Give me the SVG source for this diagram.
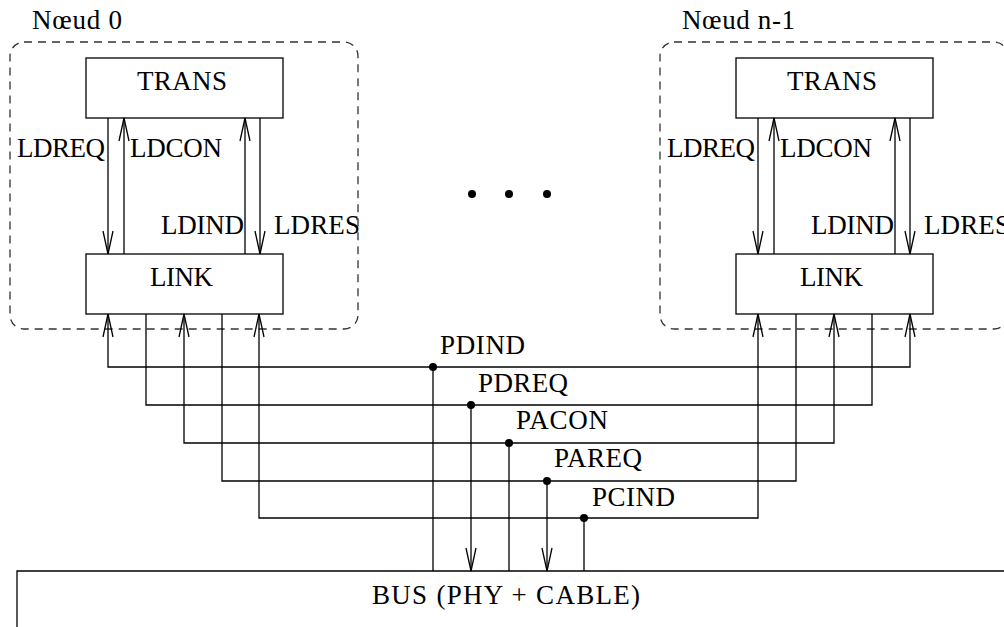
<svg xmlns="http://www.w3.org/2000/svg" width="1004" height="627" viewBox="0 0 1004 627">
<style>
text{font-family:"Liberation Serif","Times New Roman",serif;font-size:27px;fill:#000}
.box{fill:#fff;stroke:#000;stroke-width:1.3}
.frame{fill:none;stroke:#333;stroke-width:1.3;stroke-dasharray:8,6}
.w{fill:none;stroke:#000;stroke-width:1.3}
.a{marker-end:url(#arr)}
.mid{text-anchor:middle}
</style>
<defs>
<marker id="arr" markerUnits="userSpaceOnUse" orient="auto" markerWidth="1" markerHeight="1" overflow="visible">
<path d="M-23,-5 L0,0 L-23,5" fill="none" stroke="#000" stroke-width="1.3"/>
</marker>
</defs>
<rect width="1004" height="627" fill="#fff"/>

<g id="node0">
<rect class="frame" x="10" y="42" width="348" height="287" rx="14"/>
<text x="32" y="29" textLength="90">Nœud 0</text>
</g>
<g id="nodeN">
<rect class="frame" x="660" y="42" width="348" height="287" rx="14"/>
<text x="682" y="29" textLength="113">Nœud n-1</text>
</g>

<g id="trans0"><rect class="box" x="86" y="58" width="197" height="60"/><text x="137" y="90" textLength="90">TRANS</text></g>
<g id="link0"><rect class="box" x="86" y="254" width="197" height="60"/><text x="150" y="286" textLength="63">LINK</text></g>
<g id="transN"><rect class="box" x="736" y="58" width="197" height="60"/><text x="787" y="90" textLength="90">TRANS</text></g>
<g id="linkN"><rect class="box" x="736" y="254" width="197" height="60"/><text x="800" y="286" textLength="63">LINK</text></g>

<g id="bus">
<path class="w" d="M17,640 V571 H1010"/>
<text x="372" y="604" textLength="268">BUS (PHY + CABLE)</text>
</g>

<g id="ellipsis">
<circle cx="472" cy="194" r="4"/><circle cx="509" cy="194" r="4"/><circle cx="547" cy="194" r="4"/>
</g>

<g id="connectors">
<!-- node 0 internal -->
<path class="w a" d="M108,118 V254"/>
<path class="w a" d="M124,254 V118"/>
<path class="w a" d="M245,254 V118"/>
<path class="w a" d="M260,118 V254"/>
<!-- node n-1 internal -->
<path class="w a" d="M758,118 V254"/>
<path class="w a" d="M774,254 V118"/>
<path class="w a" d="M895,254 V118"/>
<path class="w a" d="M910,118 V254"/>
<!-- PDIND -->
<path class="w a" d="M433,571 V367 H108 V314"/>
<path class="w a" d="M433,367 H910 V314"/>
<!-- PDREQ -->
<path class="w" d="M146,314 V405 H872 V314"/>
<path class="w a" d="M471,405 V571"/>
<!-- PACON -->
<path class="w a" d="M509,571 V443 H184 V314"/>
<path class="w a" d="M509,443 H834 V314"/>
<!-- PAREQ -->
<path class="w" d="M222,314 V481 H796 V314"/>
<path class="w a" d="M547,481 V571"/>
<!-- PCIND -->
<path class="w a" d="M584,571 V518 H259 V314"/>
<path class="w a" d="M584,518 H758 V314"/>
<circle cx="433" cy="367" r="4"/>
<circle cx="471" cy="405" r="4"/>
<circle cx="509" cy="443" r="4"/>
<circle cx="547" cy="481" r="4"/>
<circle cx="584" cy="518" r="4"/>
</g>

<g id="labels">
<text x="17" y="157" textLength="88">LDREQ</text>
<text x="130" y="157" textLength="92">LDCON</text>
<text x="161" y="234" textLength="83">LDIND</text>
<text x="274" y="234" textLength="86">LDRES</text>
<text x="667" y="157" textLength="88">LDREQ</text>
<text x="780" y="157" textLength="92">LDCON</text>
<text x="811" y="234" textLength="83">LDIND</text>
<text x="924" y="234" textLength="86">LDRES</text>
<text x="440" y="354" textLength="85">PDIND</text>
<text x="478" y="392" textLength="90">PDREQ</text>
<text x="516" y="429" textLength="92">PACON</text>
<text x="554" y="467" textLength="88">PAREQ</text>
<text x="592" y="506" textLength="83">PCIND</text>
</g>
</svg>
